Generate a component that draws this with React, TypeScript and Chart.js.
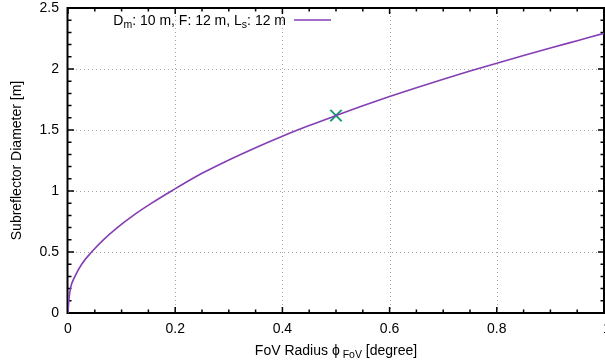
import React, { useEffect, useRef } from "react";
import { Chart, registerables } from "chart.js";

Chart.register(...registerables);

const fovX = [0, 0.0015, 0.0045, 0.013, 0.0255, 0.044, 0.066, 0.092, 0.122, 0.156, 0.193, 0.25, 0.3, 0.35, 0.4, 0.45, 0.5, 0.55, 0.6, 0.65, 0.7, 0.75, 0.8, 0.85, 0.9, 0.95, 1.0];
const diamY = [0, 0.1, 0.2, 0.3, 0.4, 0.5, 0.6, 0.7, 0.8, 0.9, 1.0, 1.145, 1.254, 1.355, 1.449, 1.536, 1.618, 1.698, 1.774, 1.846, 1.916, 1.983, 2.048, 2.111, 2.172, 2.232, 2.292];
const markX = [0.5];
const markY = [1.618];
const xTicks = [0, 0.2, 0.4, 0.6, 0.8, 1];
const xTickLabels = ["0", "0.2", "0.4", "0.6", "0.8", "1"];
const yTicks = [0, 0.5, 1, 1.5, 2, 2.5];
const yTickLabels = ["0", "0.5", "1", "1.5", "2", "2.5"];

const FONT = "'Liberation Sans', Arial, sans-serif";
const FS = 14;
const SUB = 10.5;
const LINE_COLOR = "rgb(132,62,180)";
const MARK_COLOR = "#139e73";

const axesPlugin = {
  id: "gnuAxes",
  beforeDatasetsDraw(chart: any) {
    const { ctx, chartArea: a, scales } = chart;
    const xs = scales.x, ys = scales.y;
    ctx.save();
    ctx.strokeStyle = "#a8a8a8";
    ctx.lineWidth = 1;
    ctx.setLineDash([1, 3]);
    for (const v of xTicks) {
      if (v <= 0 || v >= 1) continue;
      const px = Math.round(xs.getPixelForValue(v)) + 0.5;
      ctx.beginPath(); ctx.moveTo(px, a.top); ctx.lineTo(px, a.bottom); ctx.stroke();
    }
    for (const v of yTicks) {
      if (v <= 0 || v >= 2.5) continue;
      const py = Math.round(ys.getPixelForValue(v)) + 0.5;
      ctx.beginPath(); ctx.moveTo(a.left, py); ctx.lineTo(a.right, py); ctx.stroke();
    }
    ctx.setLineDash([]);
    ctx.strokeStyle = "#000";
    ctx.lineWidth = 1.5;
    for (let i = 0; i <= 20; i++) {
      const v = i * 0.05;
      const len = i % 4 === 0 ? 6 : 3.5;
      const px = xs.getPixelForValue(v);
      ctx.beginPath();
      ctx.moveTo(px, a.bottom); ctx.lineTo(px, a.bottom - len);
      ctx.moveTo(px, a.top); ctx.lineTo(px, a.top + len);
      ctx.stroke();
    }
    for (let i = 0; i <= 25; i++) {
      const v = i * 0.1;
      const len = i % 5 === 0 ? 6 : 3.5;
      const py = ys.getPixelForValue(v);
      ctx.beginPath();
      ctx.moveTo(a.left, py); ctx.lineTo(a.left + len, py);
      ctx.moveTo(a.right, py); ctx.lineTo(a.right - len, py);
      ctx.stroke();
    }
    ctx.lineWidth = 2;
    ctx.strokeRect(a.left - 0.5, a.top, a.right - a.left + 0.5, a.bottom - a.top);
    ctx.restore();
  },
  afterDatasetsDraw(chart: any) {
    const { ctx, chartArea: a, scales } = chart;
    const xs = scales.x, ys = scales.y;
    ctx.save();
    ctx.fillStyle = "#000";
    ctx.font = `${FS}px ${FONT}`;
    ctx.textAlign = "center";
    ctx.textBaseline = "alphabetic";
    xTicks.forEach((v, i) => {
      ctx.fillText(xTickLabels[i], xs.getPixelForValue(v) + (v === 1 ? 3 : 0), a.bottom + 20);
    });
    ctx.textAlign = "right";
    ctx.textBaseline = "middle";
    yTicks.forEach((v, i) => {
      ctx.fillText(yTickLabels[i], a.left - 9, ys.getPixelForValue(v) + 0.5);
    });

    ctx.textBaseline = "alphabetic";
    ctx.textAlign = "left";
    const parts: [string, number, number][] = [
      ["FoV Radius ", FS, 0],
      ["\u03D5", FS, 0],
      [" FoV", SUB, 3],
      [" [degree]", FS, 0],
    ];
    let total = 0;
    for (const [t, s] of parts) { ctx.font = `${s}px ${FONT}`; total += ctx.measureText(t).width; }
    let x = (a.left + a.right) / 2 - total / 2;
    const base = 355;
    for (const [t, s, dy] of parts) {
      ctx.font = `${s}px ${FONT}`;
      ctx.fillText(t, x, base + dy);
      x += ctx.measureText(t).width;
    }

    ctx.save();
    ctx.translate(17, (a.top + a.bottom) / 2);
    ctx.rotate(-Math.PI / 2);
    ctx.textAlign = "center";
    ctx.textBaseline = "middle";
    ctx.font = `${FS}px ${FONT}`;
    ctx.fillText("Subreflector Diameter [m]", 0, 0);
    ctx.restore();

    const lparts: [string, number, number][] = [
      ["D", FS, 0], ["m", SUB, 3], [": 10 m, F: 12 m, L", FS, 0], ["s", SUB, 3], [": 12 m", FS, 0],
    ];
    let lw = 0;
    for (const [t, s] of lparts) { ctx.font = `${s}px ${FONT}`; lw += ctx.measureText(t).width; }
    const rightEdge = 286;
    let lx = rightEdge - lw;
    const lb = 25;
    ctx.textAlign = "left";
    for (const [t, s, dy] of lparts) {
      ctx.font = `${s}px ${FONT}`;
      ctx.fillText(t, lx, lb + dy);
      lx += ctx.measureText(t).width;
    }
    ctx.strokeStyle = LINE_COLOR;
    ctx.lineWidth = 1.6;
    ctx.beginPath(); ctx.moveTo(294, 20); ctx.lineTo(331, 20); ctx.stroke();
    ctx.restore();
  },
};

export default function App() {
  const ref = useRef<HTMLCanvasElement | null>(null);
  useEffect(() => {
    if (!ref.current) return;
    const chart = new Chart(ref.current, {
      type: "scatter",
      data: {
        datasets: [
          {
            data: fovX.map((x, i) => ({ x, y: diamY[i] })),
            showLine: true,
            borderColor: LINE_COLOR,
            borderWidth: 1.6,
            pointRadius: 0,
            cubicInterpolationMode: "monotone",
            fill: false,
          },
          {
            data: markX.map((x, i) => ({ x, y: markY[i] })),
            showLine: false,
            pointStyle: "crossRot",
            pointRadius: 8,
            borderColor: MARK_COLOR,
            backgroundColor: MARK_COLOR,
            pointBorderWidth: 1.8,
            borderWidth: 1.8,
          },
        ],
      },
      options: {
        animation: false,
        responsive: false,
        devicePixelRatio: 1,
        layout: { autoPadding: false, padding: { left: 68, right: 1, top: 8, bottom: 51 } },
        plugins: { legend: { display: false }, tooltip: { enabled: false } },
        scales: {
          x: { type: "linear", min: 0, max: 1, display: false },
          y: { type: "linear", min: 0, max: 2.5, display: false },
        },
      } as any,
      plugins: [axesPlugin],
    });
    return () => chart.destroy();
  }, []);
  return (
    <div style={{ position: "fixed", left: 0, top: 0, width: 605, height: 364, background: "#fff" }}>
      <canvas ref={ref} width={605} height={364} style={{ width: 605, height: 364, display: "block" }} />
    </div>
  );
}
